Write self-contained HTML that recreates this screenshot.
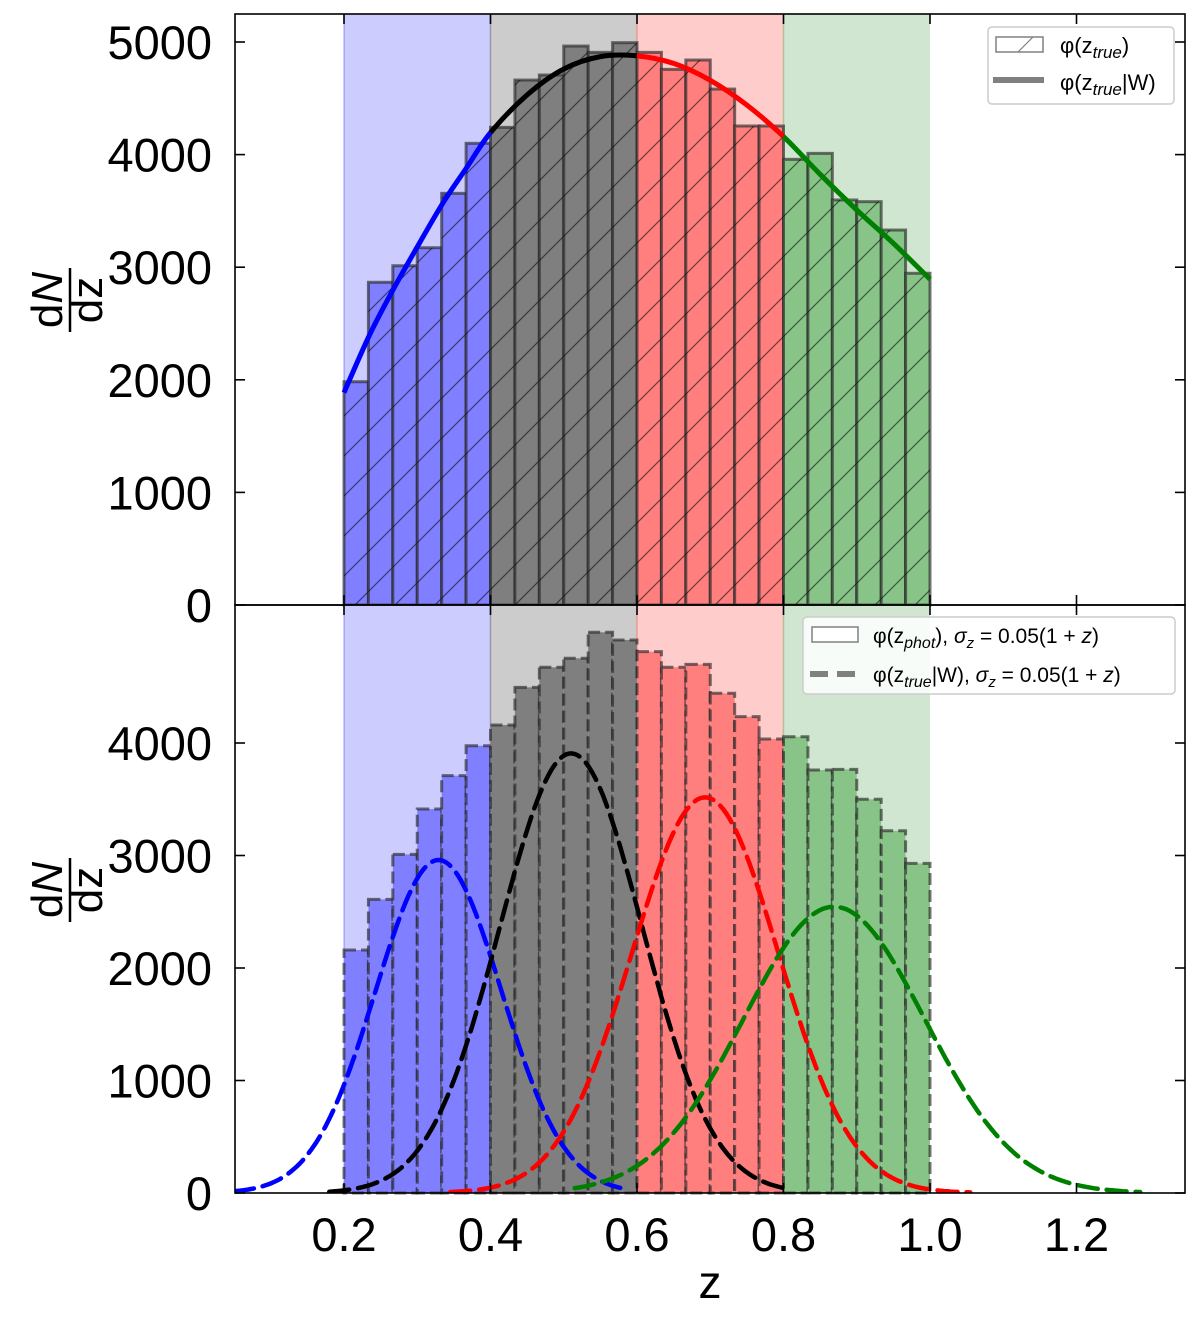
<!DOCTYPE html>
<html><head><meta charset="utf-8"><style>
body{margin:0;background:#fff}
svg text{font-family:"Liberation Sans","DejaVu Sans",sans-serif}
</style></head><body>
<svg id="chart" width="1200" height="1322" viewBox="0 0 1200 1322" xmlns="http://www.w3.org/2000/svg">
<defs>
<pattern id="hatch" patternUnits="userSpaceOnUse" width="40" height="40">
<path d="M-10,50 L50,-10 M-10,10 L10,-10 M30,50 L50,30" stroke="#000" stroke-opacity="0.55" stroke-width="1.2"/>
</pattern>
<clipPath id="clipBot"><rect x="235" y="605" width="950" height="588"/></clipPath>
</defs>
<g id="gtop"></g>
<g id="gbot"></g>
<g id="axes"></g>
<g>
<rect x="988" y="27" width="186" height="77" rx="4" fill="#fff" fill-opacity="0.85" stroke="#ccc" stroke-width="1.5"/>
<rect x="996" y="37" width="47" height="15" fill="#fff" stroke="#808080" stroke-width="1.5"/>
<line x1="1018" y1="52" x2="1033" y2="37" stroke="#808080" stroke-width="1.2"/>
<text x="1060" y="53" font-size="22">φ(z<tspan font-style="italic" font-size="17" dy="5">true</tspan><tspan dy="-5">)</tspan></text>
<line x1="993" y1="80" x2="1044" y2="80" stroke="#808080" stroke-width="6"/>
<text x="1060" y="90" font-size="22">φ(z<tspan font-style="italic" font-size="17" dy="5">true</tspan><tspan dy="-5">|W)</tspan></text>
</g>
<g>
<rect x="803" y="617" width="372" height="77" rx="4" fill="#fff" fill-opacity="0.85" stroke="#ccc" stroke-width="1.5"/>
<rect x="812" y="627" width="46" height="15" fill="#fff" stroke="#808080" stroke-width="1.5"/>
<text x="873" y="643" font-size="21">φ(z<tspan font-style="italic" font-size="16" dy="5">phot</tspan><tspan dy="-5">),  </tspan><tspan font-style="italic">σ</tspan><tspan font-style="italic" font-size="15" dy="5">z</tspan><tspan dy="-5"> = 0.05(1 + </tspan><tspan font-style="italic">z</tspan>)</text>
<line x1="810" y1="674" x2="860" y2="674" stroke="#808080" stroke-width="6" stroke-dasharray="18,9"/>
<text x="873" y="682" font-size="21">φ(z<tspan font-style="italic" font-size="16" dy="5">true</tspan><tspan dy="-5">|W), </tspan><tspan font-style="italic">σ</tspan><tspan font-style="italic" font-size="15" dy="5">z</tspan><tspan dy="-5"> = 0.05(1 + </tspan><tspan font-style="italic">z</tspan>)</text>
</g>
<g transform="translate(70,300) rotate(-90)">
<text x="0" y="-8" font-size="44" text-anchor="middle">d<tspan font-style="italic">N</tspan></text>
<line x1="-32" y1="0" x2="32" y2="0" stroke="#000" stroke-width="2.5"/>
<text x="0" y="32" font-size="44" text-anchor="middle">dz</text>
</g>
<g transform="translate(70,890) rotate(-90)">
<text x="0" y="-8" font-size="44" text-anchor="middle">d<tspan font-style="italic">N</tspan></text>
<line x1="-32" y1="0" x2="32" y2="0" stroke="#000" stroke-width="2.5"/>
<text x="0" y="32" font-size="44" text-anchor="middle">dz</text>
</g>
<text x="710" y="1298" font-size="46" text-anchor="middle">z</text>
</svg>
<script>
const regionEdges = [0.2, 0.4, 0.6, 0.8, 1.0];
const binStart = 0.2;
const binCount = 24;
const binWidth = 0.8 / 24;
const topCounts = [1983, 2866, 3013, 3173, 3656, 4100, 4242, 4662, 4707, 4964, 4908, 4994, 4908, 4757, 4840, 4582, 4254, 4254, 3958, 4011, 3597, 3582, 3330, 2946];
const botCounts = [2160, 2610, 3010, 3413, 3710, 3976, 4160, 4495, 4673, 4753, 4984, 4916, 4812, 4673, 4699, 4442, 4234, 4036, 4056, 3760, 3766, 3500, 3220, 2930];
const curveZ = [0.2, 0.235, 0.267, 0.3, 0.335, 0.367, 0.4, 0.45, 0.5, 0.55, 0.6, 0.65, 0.7, 0.75, 0.8, 0.85, 0.9, 0.95, 1.0];
const curveVal = [1886, 2400, 2800, 3180, 3570, 3880, 4195, 4530, 4760, 4870, 4877, 4810, 4660, 4440, 4160, 3825, 3508, 3212, 2893];
const gaussMean = [0.329, 0.51, 0.693, 0.869];
const gaussPeak = [2960, 3908, 3517, 2545];
const gaussSigma = [0.086, 0.097, 0.100, 0.124];
const gaussFrom = [0.05, 0.18, 0.345, 0.515];
const gaussTo = [0.577, 0.81, 1.055, 1.287];
const topYTicks = [0, 1000, 2000, 3000, 4000, 5000];
const botYTicks = [0, 1000, 2000, 3000, 4000];
const xTicks = [0.2, 0.4, 0.6, 0.8, 1.0, 1.2];
const xTickLabels = ["0.2", "0.4", "0.6", "0.8", "1.0", "1.2"];

const NS = "http://www.w3.org/2000/svg";
const lineColors = ["#0000ff", "#000000", "#ff0000", "#008000"];
const spanColors = ["#ccccff", "#cccccc", "#ffcccc", "#d0e6d0"];
const barColors = ["#7f7fff", "#7f7f7f", "#ff7f7f", "#88c488"];
const xS = z => 344 + (z - 0.2) * 732.5;
const yT = v => 605 - v * 0.1126;
const yB = v => 1193 - v * 0.1125;
function mk(tag, attrs, parent) {
  const e = document.createElementNS(NS, tag);
  for (const k in attrs) e.setAttribute(k, attrs[k]);
  parent.appendChild(e);
  return e;
}
const gTop = document.getElementById("gtop");
const gBot = document.getElementById("gbot");
const axes = document.getElementById("axes");

for (let r = 0; r < 4; r++) {
  for (const [g, y0, y1] of [[gTop, 14, 605], [gBot, 605, 1193]]) {
    const s = mk("rect", {x: xS(regionEdges[r]), y: y0, width: xS(regionEdges[r+1]) - xS(regionEdges[r]), height: y1 - y0, fill: spanColors[r]}, g);
    
    
    mk("line", {x1: xS(regionEdges[r]), y1: y0, x2: xS(regionEdges[r]), y2: y1, stroke: lineColors[r], "stroke-opacity": 0.25, "stroke-width": 1.5}, g);
  }
}
for (let i = 0; i < binCount; i++) {
  const z0 = binStart + i * binWidth, r = Math.floor(i / 6);
  const x0 = xS(z0), w = xS(z0 + binWidth) - x0;
  const b = mk("rect", {x: x0, y: yT(topCounts[i]), width: w, height: 605 - yT(topCounts[i]), fill: barColors[r], stroke: "#2a2a2a", "stroke-opacity": 0.65, "stroke-width": 3}, gTop);
  
  
  mk("rect", {x: x0, y: yT(topCounts[i]), width: w, height: 605 - yT(topCounts[i]), fill: "url(#hatch)"}, gTop);
  const c = mk("rect", {x: x0, y: yB(botCounts[i]), width: w, height: 1193 - yB(botCounts[i]), fill: barColors[r], stroke: "#2a2a2a", "stroke-opacity": 0.65, "stroke-width": 3, "stroke-dasharray": "12,5"}, gBot);
  
  
}
const P = curveZ.map((z, k) => [xS(z), yT(curveVal[k])]);
function seg(k) {
  const p0 = P[Math.max(k - 1, 0)], p1 = P[k], p2 = P[k + 1], p3 = P[Math.min(k + 2, P.length - 1)];
  const c1 = [p1[0] + (p2[0] - p0[0]) / 6, p1[1] + (p2[1] - p0[1]) / 6];
  const c2 = [p2[0] - (p3[0] - p1[0]) / 6, p2[1] - (p3[1] - p1[1]) / 6];
  return " C" + c1.join(",") + " " + c2.join(",") + " " + p2.join(",");
}
for (let r = 0; r < 4; r++) {
  let d = "";
  for (let k = 0; k < P.length - 1; k++) {
    if (curveZ[k] >= regionEdges[r] - 1e-9 && curveZ[k + 1] <= regionEdges[r + 1] + 1e-9) {
      if (!d) d = "M" + P[k].join(",");
      d += seg(k);
    }
  }
  const p = mk("path", {d: d, fill: "none", stroke: lineColors[r], "stroke-width": 5}, gTop);
  
  
}
for (let r = 0; r < 4; r++) {
  const pts = [];
  for (let k = 0; k <= 160; k++) {
    const z = gaussFrom[r] + (gaussTo[r] - gaussFrom[r]) * k / 160;
    const v = gaussPeak[r] * Math.exp(-0.5 * Math.pow((z - gaussMean[r]) / gaussSigma[r], 2));
    pts.push(xS(z).toFixed(1) + "," + yB(v).toFixed(1));
  }
  const p = mk("polyline", {points: pts.join(" "), fill: "none", stroke: lineColors[r], "stroke-width": 4.5, "stroke-dasharray": "20,9", "stroke-linecap": "round", "clip-path": "url(#clipBot)"}, gBot);
  
  
}
for (const [y0, y1] of [[14, 605], [605, 1193]]) {
  const f = mk("rect", {x: 235, y: y0, width: 950, height: y1 - y0, fill: "none", stroke: "#000", "stroke-width": 1.6}, axes);
  
  
}
topYTicks.forEach(v => {
  const y = yT(v);
  mk("line", {x1: 235, y1: y, x2: 245, y2: y, stroke: "#000", "stroke-width": 1.6}, axes);
  mk("line", {x1: 1175, y1: y, x2: 1185, y2: y, stroke: "#000", "stroke-width": 1.6}, axes);
  const t = mk("text", {x: 212, y: y + 17, "font-size": 47, "text-anchor": "end"}, axes);
  t.textContent = String(v);
  
  
});
botYTicks.forEach(v => {
  const y = yB(v);
  mk("line", {x1: 235, y1: y, x2: 245, y2: y, stroke: "#000", "stroke-width": 1.6}, axes);
  mk("line", {x1: 1175, y1: y, x2: 1185, y2: y, stroke: "#000", "stroke-width": 1.6}, axes);
  const t = mk("text", {x: 212, y: y + 17, "font-size": 47, "text-anchor": "end"}, axes);
  t.textContent = String(v);
  
  
});
xTicks.forEach((z, k) => {
  const x = xS(z);
  mk("line", {x1: x, y1: 14, x2: x, y2: 24, stroke: "#000", "stroke-width": 1.6}, axes);
  mk("line", {x1: x, y1: 605, x2: x, y2: 615, stroke: "#000", "stroke-width": 1.6}, axes);
  mk("line", {x1: x, y1: 595, x2: x, y2: 605, stroke: "#000", "stroke-width": 1.6}, axes);
  mk("line", {x1: x, y1: 1183, x2: x, y2: 1193, stroke: "#000", "stroke-width": 1.6}, axes);
  const t = mk("text", {x: x, y: 1251, "font-size": 47, "text-anchor": "middle"}, axes);
  t.textContent = xTickLabels[k];
  
  
});
</script>
</body></html>
